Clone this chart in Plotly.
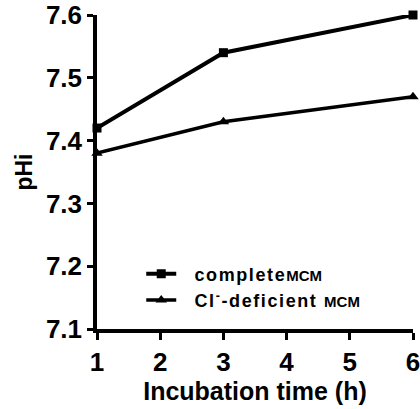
import plotly.graph_objects as go

time_h = [1, 3, 6]
complete_mcm = [7.42, 7.54, 7.60]
cl_deficient_mcm = [7.38, 7.43, 7.47]
x_ticks = [1, 2, 3, 4, 5, 6]
y_ticks = [7.1, 7.2, 7.3, 7.4, 7.5, 7.6]

FONT = "Liberation Sans, Arial, sans-serif"
LS = "letter-spacing:1.6px"

fig = go.Figure()
fig.add_trace(go.Scatter(
    x=time_h, y=complete_mcm, mode="lines+markers",
    name=f"<b><span style='{LS}'>&nbsp;&nbsp;complete</span><span style='font-size:15px'>MCM</span></b>",
    line=dict(color="black", width=4),
    marker=dict(symbol="square", size=9, color="black"),
    cliponaxis=False,
))
fig.add_trace(go.Scatter(
    x=time_h, y=cl_deficient_mcm, mode="lines+markers",
    name=f"<b><span style='{LS}'>&nbsp;&nbsp;Cl<sup>-</sup>-deficient </span><span style='font-size:15px'>MCM</span></b>",
    line=dict(color="black", width=3.5),
    marker=dict(symbol="triangle-up", size=10, color="black"),
    cliponaxis=False,
))

fig.update_layout(
    width=420, height=409,
    margin=dict(l=97, r=7, t=15, b=80, autoexpand=False),
    paper_bgcolor="white", plot_bgcolor="white",
    font=dict(family=FONT, color="black", size=18),
    showlegend=True,
    legend=dict(x=0.14, y=0.234, xanchor="left", yanchor="top",
                bgcolor="rgba(0,0,0,0)", font=dict(size=18, family=FONT),
                tracegroupgap=0, itemwidth=30),
    xaxis=dict(
        range=[1, 6], tickvals=x_ticks, ticktext=[f"<b>{v}</b>" for v in x_ticks],
        showline=True, linecolor="black", linewidth=3.5,
        ticks="outside", ticklen=7, tickwidth=3, tickcolor="black",
        showgrid=False, zeroline=False, automargin=False,
        ticklabeloverflow="allow",
        tickfont=dict(size=26, family=FONT),
        title=dict(text="<b>Incubation time (h)</b>", font=dict(size=25, family=FONT), standoff=4),
    ),
    yaxis=dict(
        range=[7.1, 7.6], tickvals=y_ticks, ticktext=[f"<b>{v}</b>" for v in y_ticks],
        showline=True, linecolor="black", linewidth=3.5,
        ticks="outside", ticklen=6, tickwidth=3, tickcolor="black",
        showgrid=False, zeroline=False, automargin=False,
        ticklabeloverflow="allow",
        tickfont=dict(size=26, family=FONT),
        title=dict(text="<b>pHi</b>", font=dict(size=23, family=FONT), standoff=8),
    ),
)

fig.write_html("out.html", config={"displayModeBar": False},
               post_script="document.body.style.margin='0';")
